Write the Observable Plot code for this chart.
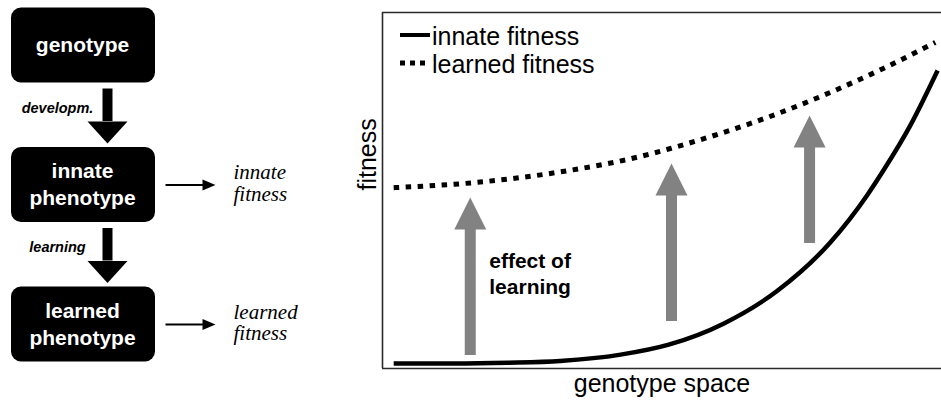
<!DOCTYPE html>
<html><head><meta charset="utf-8">
<script src="https://cdn.jsdelivr.net/npm/d3@7"></script>
<script src="https://cdn.jsdelivr.net/npm/@observablehq/plot@0.6"></script>
<style>
body{margin:0;background:#fff;}
#wrap{display:flex;width:941px;height:405px;overflow:hidden;}
#wrap svg{display:block;flex:none;}
</style></head><body><div id="wrap"></div>
<script>
// ---------- data ----------
const stages = ["genotype", "innate\nphenotype", "learned\nphenotype"];
const transitions = ["developm.", "learning"];
const outcomes = ["innate\nfitness", "learned\nfitness"];

const innateGenotype = [0.020, 0.125, 0.224, 0.318, 0.426, 0.512, 0.610, 0.707, 0.801, 0.868, 0.896, 0.945, 0.993];
const innateFitness  = [0.014, 0.014, 0.016, 0.021, 0.039, 0.067, 0.126, 0.219, 0.354, 0.489, 0.556, 0.685, 0.837];
const learnedGenotype = [0.020, 0.163, 0.313, 0.485, 0.515, 0.707, 0.896, 0.989];
const learnedFitness  = [0.508, 0.522, 0.551, 0.605, 0.618, 0.716, 0.843, 0.916];
const arrowGenotype = [0.157, 0.517, 0.764];
const arrowFrom = [0.0365, 0.132, 0.351];
const arrowTo = [0.480, 0.576, 0.711];
const seriesNames = ["innate fitness", "learned fitness"];
const annotationText = "effect of\nlearning";
const xLabel = "genotype space";
const yLabel = "fitness";

// ---------- helpers ----------
const SANS = "'Liberation Sans', Arial, Helvetica, sans-serif";
const SERIF = "'Liberation Serif', 'Times New Roman', serif";
const GRAY = "#828282";
const tri = (pts) => ({draw(ctx) { ctx.moveTo(pts[0][0], pts[0][1]); for (const p of pts.slice(1)) ctx.lineTo(p[0], p[1]); ctx.closePath(); }});
const headUpBig = tri([[0,0],[16,32],[-16,32]]);
const headDown = tri([[0,0],[20,-22],[-20,-22]]);
const headRight = tri([[0,0],[-13,-5.5],[-13,5.5]]);

// ---------- left diagram ----------
const K = 139.5;               // px per stage row
const half = 37.5 / K;         // half box height in rows
const stageRows = stages.map((s, i) => ({s, i}));
const transRows = transitions.map((t, i) => ({t, i}));
const outRows = outcomes.map((o, i) => ({o, i: i + 1}));

const left = Plot.plot({
  width: 330, height: 405, margin: 0,
  x: {domain: [0, 330], axis: null},
  y: {domain: [-45 / K, 360 / K], reverse: true, axis: null},
  style: {background: "white"},
  marks: [
    Plot.rect(stageRows, {x1: 11, x2: 155, y1: d => d.i - half, y2: d => d.i + half, fill: "black", rx: 10}),
    Plot.text(stageRows, {x: 82, y: "i", text: "s", fill: "white", fontSize: 21, fontWeight: "bold", lineHeight: 1.3, dy: -2, fontFamily: SANS}),
    Plot.ruleX(transRows, {x: 107, y1: d => d.i + half + 6 / K, y2: d => d.i + 1 - half - 26 / K, stroke: "black", strokeWidth: 10}),
    Plot.dot(transRows, {x: 107, y: d => d.i + 1 - half - 4 / K, symbol: headDown, fill: "black", stroke: "none"}),
    Plot.text(transRows, {x: 57, y: d => d.i + 0.5, text: "t", fontSize: 14.5, fontWeight: "bold", fontStyle: "italic", dy: -7, fill: "black", fontFamily: SANS}),
    Plot.link(outRows, {x1: 165, x2: 205, y1: "i", y2: "i", stroke: "black", strokeWidth: 1.8}),
    Plot.dot(outRows, {x: 215, y: "i", symbol: headRight, fill: "black", stroke: "none"}),
    Plot.text(outRows, {x: 233, y: "i", text: "o", textAnchor: "start", fontSize: 21, fontStyle: "italic", lineHeight: 1.03, dy: -2, fill: "black", fontFamily: SERIF})
  ]
});

// ---------- right chart ----------
const innate = innateGenotype.map((g, i) => ({g, f: innateFitness[i]}));
const learned = learnedGenotype.map((g, i) => ({g, f: learnedFitness[i]}));
const arrows = arrowGenotype.map((g, i) => ({g, from: arrowFrom[i], to: arrowTo[i]}));
const frameH = 405 - 12 - 37;
const headH = 31 / frameH;
const xDom = [0, 1], yDom = [0, 1];

const right = Plot.plot({
  width: 611, height: 405,
  marginLeft: 52, marginRight: 0, marginTop: 12, marginBottom: 37,
  x: {domain: xDom, axis: null},
  y: {domain: yDom, axis: null},
  style: {background: "white", overflow: "visible"},
  marks: [
    Plot.ruleY([yDom[0], yDom[1]], {stroke: "#2a2a2a", strokeWidth: 1.6}),
    Plot.ruleX([xDom[0]], {stroke: "#2a2a2a", strokeWidth: 1.6}),
    Plot.ruleX(arrows, {x: "g", y1: "from", y2: d => d.to - headH, stroke: GRAY, strokeWidth: 11}),
    Plot.dot(arrows, {x: "g", y: "to", symbol: headUpBig, fill: GRAY, stroke: "none"}),
    Plot.line(learned, {x: "g", y: "f", curve: "monotone-x", stroke: "black", strokeWidth: 5, strokeDasharray: "5.5,6.5", strokeLinecap: "butt"}),
    Plot.line(innate, {x: "g", y: "f", curve: "monotone-x", stroke: "black", strokeWidth: 4.5, strokeLinecap: "butt"}),
    Plot.text(arrows.slice(0, 1), {x: "g", y: d => (d.from + d.to) / 2, text: () => annotationText, textAnchor: "start", dx: 19, dy: -4, fontSize: 21, fontWeight: "bold", lineHeight: 1.25, fill: "black", fontFamily: SANS}),
    Plot.text([yLabel], {frameAnchor: "left", text: d => d, rotate: -90, dx: -15, fontSize: 25, fill: "black", fontFamily: SANS}),
    Plot.text([xLabel], {frameAnchor: "bottom", text: d => d, lineAnchor: "top", dy: 6, fontSize: 25, fill: "black", fontFamily: SANS})
  ]
});

// legend (inside the frame, top-left)
{
  const svg = d3.select(right);
  const g = svg.append("g").attr("transform", `translate(${52 + 18},${12})`);
  const rows = seriesNames.map((name, i) => ({name, i}));
  rows.forEach(({name, i}) => {
    const y = 23 + i * 28;
    g.append("line").attr("x1", 0).attr("x2", 30).attr("y1", y).attr("y2", y)
      .attr("stroke", "black").attr("stroke-width", i === 0 ? 4 : 5)
      .attr("stroke-dasharray", i === 0 ? null : "5,5");
    g.append("text").attr("x", 32).attr("y", y + 1).attr("dy", "0.35em")
      .attr("text-anchor", "start")
      .attr("font-family", SANS).attr("font-size", 25).attr("fill", "black").text(name);
  });
}

document.getElementById("wrap").append(left, right);
</script>
</body></html>
